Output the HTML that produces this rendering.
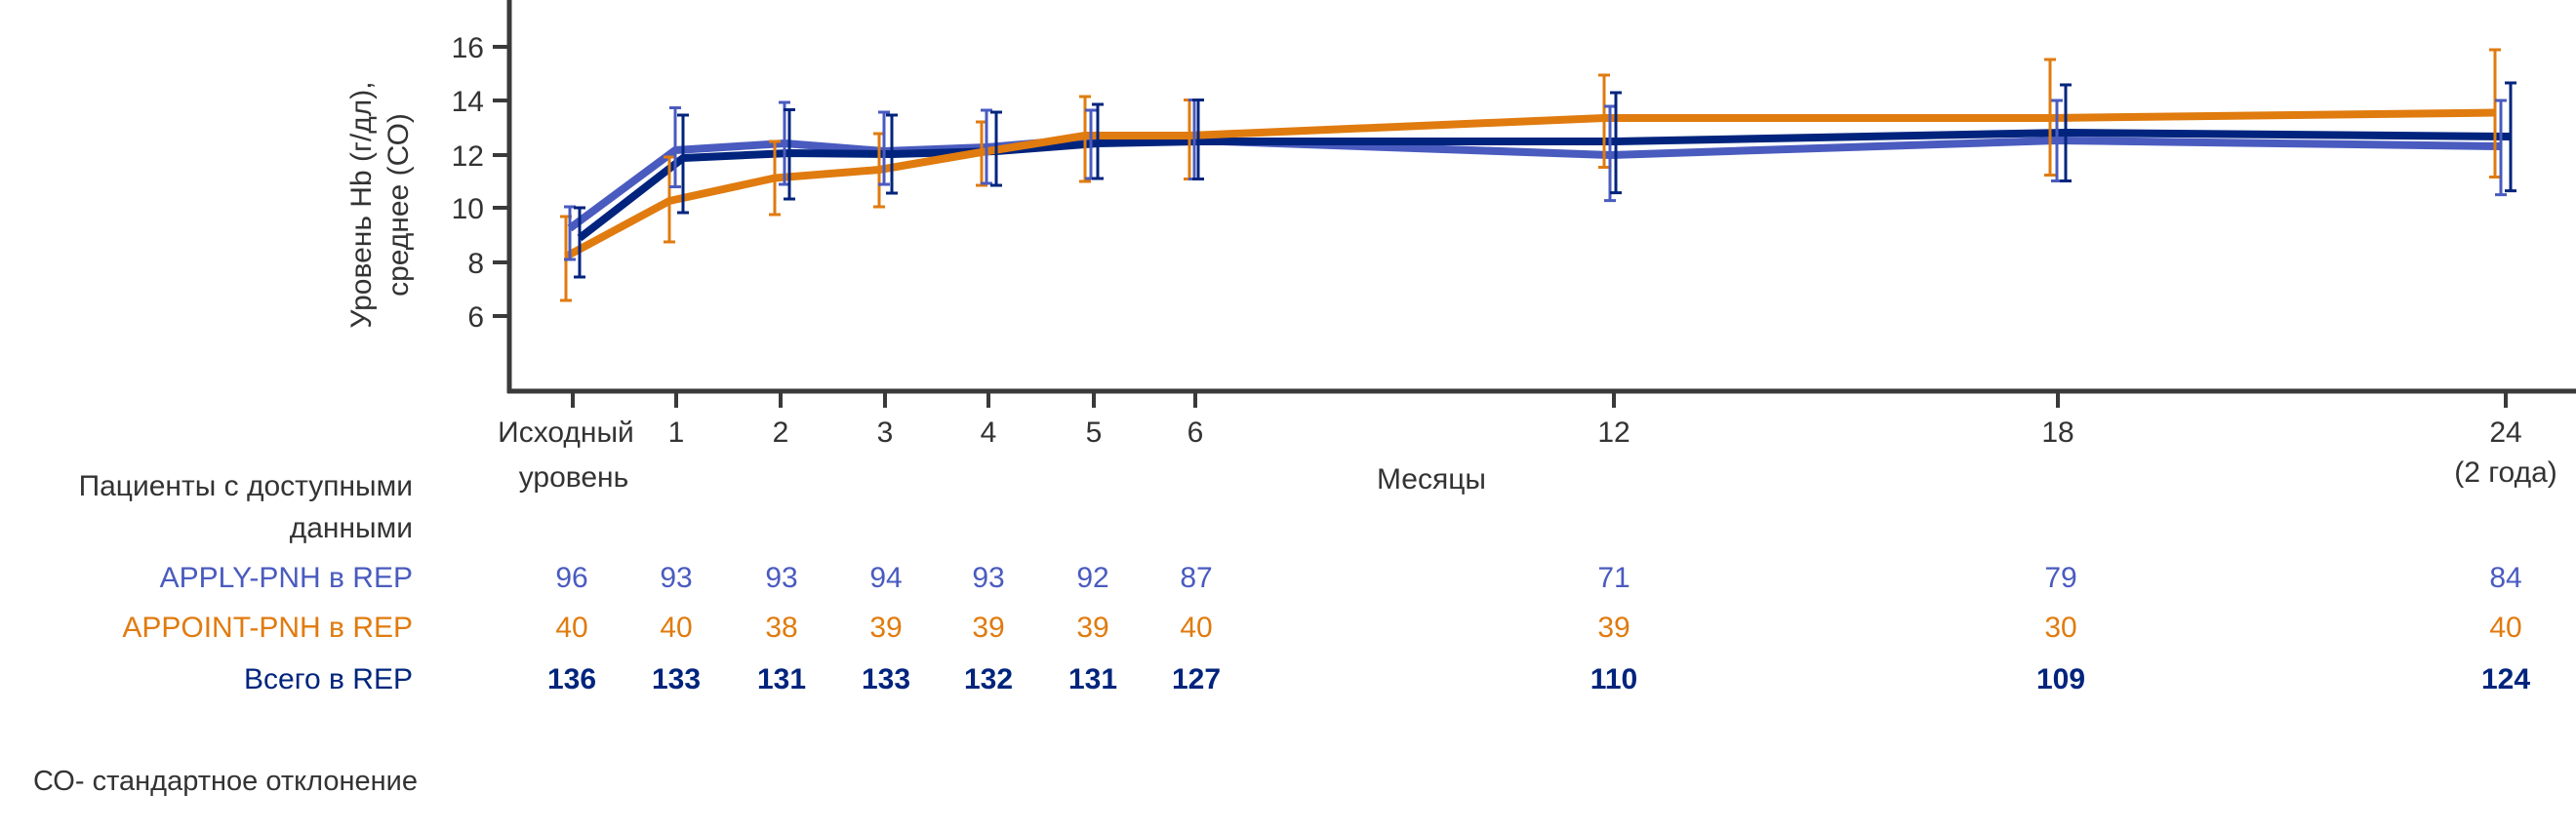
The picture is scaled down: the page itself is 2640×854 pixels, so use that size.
<!DOCTYPE html>
<html><head><meta charset="utf-8"><style>
html,body{margin:0;padding:0;background:#fff;}
svg{display:block;}
text{font-family:"Liberation Sans",sans-serif;}
</style></head><body>
<svg width="2640" height="854" viewBox="0 0 2640 854" xmlns="http://www.w3.org/2000/svg">
<!-- axes -->
<line x1="522" y1="0" x2="522" y2="403" stroke="#3a3a3a" stroke-width="5"/>
<line x1="520" y1="401" x2="2640" y2="401" stroke="#3a3a3a" stroke-width="5"/>
<g stroke="#3a3a3a" stroke-width="4">
<line x1="505" y1="48" x2="522" y2="48"/><line x1="505" y1="103" x2="522" y2="103"/>
<line x1="505" y1="159" x2="522" y2="159"/><line x1="505" y1="213" x2="522" y2="213"/>
<line x1="505" y1="269" x2="522" y2="269"/><line x1="505" y1="324" x2="522" y2="324"/>
<line x1="587" y1="401" x2="587" y2="418"/><line x1="693" y1="401" x2="693" y2="418"/>
<line x1="800" y1="401" x2="800" y2="418"/><line x1="907" y1="401" x2="907" y2="418"/>
<line x1="1013" y1="401" x2="1013" y2="418"/><line x1="1121" y1="401" x2="1121" y2="418"/>
<line x1="1225" y1="401" x2="1225" y2="418"/><line x1="1654" y1="401" x2="1654" y2="418"/>
<line x1="2109" y1="401" x2="2109" y2="418"/><line x1="2568" y1="401" x2="2568" y2="418"/>
</g>
<g fill="#333" font-size="30" text-anchor="end">
<text x="496" y="59">16</text><text x="496" y="114">14</text><text x="496" y="170">12</text>
<text x="496" y="224">10</text><text x="496" y="280">8</text><text x="496" y="335">6</text>
</g>
<g fill="#333" font-size="30" text-anchor="middle" transform="rotate(-90)">
<text x="-210" y="380">Уровень Hb (г/дл),</text>
<text x="-210" y="418">среднее (СО)</text>
</g>
<!-- series lines -->
<g fill="none" stroke-width="8" stroke-linejoin="round">
<polyline stroke="#4a5bbf" points="584,234 692,154 804,147 906,155 1011,151 1118,142 1224,144 1650,159 2108,144 2563,150"/>
<polyline stroke="#00247d" points="594,244 700,162 809,157 914,158 1021,155 1125,147 1228,145 1656,145 2117,136 2573,140"/>
<polyline stroke="#e07b0f" points="580,263 686,206 794,182.5 901,174 1006,156 1112,139 1219,139 1644,121 2101,121 2557,115.5"/>
</g>
<!-- error bars -->
<g stroke-width="3">
<g stroke="#e07b0f">
<path d="M580 222V308M574 222h12M574 308h12"/>
<path d="M686 161V248M680 161h12M680 248h12"/>
<path d="M794 145V220M788 145h12M788 220h12"/>
<path d="M901 137V212M895 137h12M895 212h12"/>
<path d="M1006 125V190M1000 125h12M1000 190h12"/>
<path d="M1112 99V186M1106 99h12M1106 186h12"/>
<path d="M1219 102.5V183.5M1213 102.5h12M1213 183.5h12"/>
<path d="M1644 77V171.5M1638 77h12M1638 171.5h12"/>
<path d="M2101 61V179.5M2095 61h12M2095 179.5h12"/>
<path d="M2557 51V181.5M2551 51h12M2551 181.5h12"/>
</g>
<g stroke="#4a5bbf">
<path d="M584 212V266M578 212h12M578 266h12"/>
<path d="M692 110.5V191.5M686 110.5h12M686 191.5h12"/>
<path d="M804 105V189M798 105h12M798 189h12"/>
<path d="M906 115V189M900 115h12M900 189h12"/>
<path d="M1011 113V188M1005 113h12M1005 188h12"/>
<path d="M1118 113V183M1112 113h12M1112 183h12"/>
<path d="M1224 102.5V183.5M1218 102.5h12M1218 183.5h12"/>
<path d="M1650 109V205.6M1644 109h12M1644 205.6h12"/>
<path d="M2108 103V185.5M2102 103h12M2102 185.5h12"/>
<path d="M2563 103V199.6M2557 103h12M2557 199.6h12"/>
</g>
<g stroke="#00247d">
<path d="M594 213V284M588 213h12M588 284h12"/>
<path d="M700 118V218M694 118h12M694 218h12"/>
<path d="M809 112.5V204M803 112.5h12M803 204h12"/>
<path d="M914 118V198M908 118h12M908 198h12"/>
<path d="M1021 115V190M1015 115h12M1015 190h12"/>
<path d="M1125 107V183M1119 107h12M1119 183h12"/>
<path d="M1228 102.5V183.5M1222 102.5h12M1222 183.5h12"/>
<path d="M1656 95V197.6M1650 95h12M1650 197.6h12"/>
<path d="M2117 87V185.5M2111 87h12M2111 185.5h12"/>
<path d="M2573 85V195.6M2567 85h12M2567 195.6h12"/>
</g>
</g>
<!-- x tick labels -->
<g fill="#333" font-size="30" text-anchor="middle">
<text x="580" y="453">Исходный</text>
<text x="588" y="499">уровень</text>
<text x="693" y="453">1</text><text x="800" y="453">2</text><text x="907" y="453">3</text>
<text x="1013" y="453">4</text><text x="1121" y="453">5</text><text x="1225" y="453">6</text>
<text x="1654" y="453">12</text><text x="2109" y="453">18</text><text x="2568" y="453">24</text>
<text x="2568" y="494">(2 года)</text>
<text x="1467" y="501">Месяцы</text>
</g>
<!-- table -->
<g font-size="30" text-anchor="end">
<text x="423" y="508" fill="#333">Пациенты с доступными</text>
<text x="423" y="551" fill="#333">данными</text>
<text x="423" y="602" fill="#4a5bbf">APPLY-PNH в REP</text>
<text x="423" y="653" fill="#e07b0f">APPOINT-PNH в REP</text>
<text x="423" y="706" fill="#00247d">Всего в REP</text>
</g>
<g font-size="30" text-anchor="middle" fill="#4a5bbf">
<text x="586" y="602">96</text><text x="693" y="602">93</text><text x="801" y="602">93</text><text x="908" y="602">94</text><text x="1013" y="602">93</text><text x="1120" y="602">92</text><text x="1226" y="602">87</text><text x="1654" y="602">71</text><text x="2112" y="602">79</text><text x="2568" y="602">84</text>
</g>
<g font-size="30" text-anchor="middle" fill="#e07b0f">
<text x="586" y="653">40</text><text x="693" y="653">40</text><text x="801" y="653">38</text><text x="908" y="653">39</text><text x="1013" y="653">39</text><text x="1120" y="653">39</text><text x="1226" y="653">40</text><text x="1654" y="653">39</text><text x="2112" y="653">30</text><text x="2568" y="653">40</text>
</g>
<g font-size="30" text-anchor="middle" fill="#00247d" font-weight="bold">
<text x="586" y="706">136</text><text x="693" y="706">133</text><text x="801" y="706">131</text><text x="908" y="706">133</text><text x="1013" y="706">132</text><text x="1120" y="706">131</text><text x="1226" y="706">127</text><text x="1654" y="706">110</text><text x="2112" y="706">109</text><text x="2568" y="706">124</text>
</g>
<text x="34" y="810" font-size="29" fill="#333">СО- стандартное отклонение</text>
</svg>
</body></html>
